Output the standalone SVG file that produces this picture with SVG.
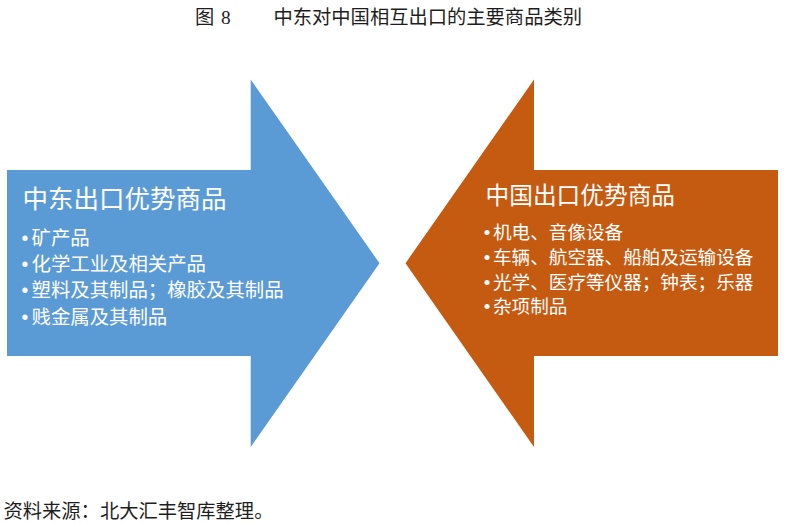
<svg xmlns="http://www.w3.org/2000/svg" width="785" height="524" viewBox="0 0 785 524">
  <style>
    .cjk { font-family: "Noto Sans CJK SC", "Noto Sans", sans-serif; }
    .caption { fill: #1e1e1e; font-size: 19.3px; }
    .head { fill: #ffffff; }
    .item { fill: #ffffff; }
    .bul { font-family: "Liberation Sans", "DejaVu Sans", sans-serif; }
    .blue { fill: #5B9BD5; }
    .orange { fill: #C55A11; }
  </style>
  <rect x="0" y="0" width="785" height="524" fill="#ffffff"/>

  <g id="title">
    <text class="cjk caption" y="23.9">
      <tspan x="195">图</tspan><tspan x="221" font-family="Liberation Serif, serif">8</tspan><tspan x="273.5">中东对中国相互出口的主要商品类别</tspan>
    </text>
  </g>

  <g id="connectors"></g>

  <g id="middle-east-exports">
    <path class="blue" d="M7,170 H250.7 V79.5 L379.5,263.2 L250.7,447 V356 H7 Z"/>
    <text class="cjk head" x="22.5" y="207.5" font-size="25.5px">中东出口优势商品</text>
    <g class="cjk item" font-size="19.4px">
      <text y="244.5"><tspan class="bul" x="21.5">•</tspan><tspan x="31.5">矿产品</tspan></text>
      <text y="270.6"><tspan class="bul" x="21.5">•</tspan><tspan x="31.5">化学工业及相关产品</tspan></text>
      <text y="297.1"><tspan class="bul" x="21.5">•</tspan><tspan x="31.5">塑料及其制品；橡胶及其制品</tspan></text>
      <text y="323.8"><tspan class="bul" x="21.5">•</tspan><tspan x="31.5">贱金属及其制品</tspan></text>
    </g>
  </g>

  <g id="china-exports">
    <path class="orange" d="M778,170 H534 V79.5 L405.5,263.2 L534,447 V356 H778 Z"/>
    <text class="cjk head" x="485.5" y="204.3" font-size="23.7px">中国出口优势商品</text>
    <g class="cjk item" font-size="18.6px">
      <text y="238.9"><tspan class="bul" x="483.8">•</tspan><tspan x="493">机电、音像设备</tspan></text>
      <text y="263.9"><tspan class="bul" x="483.8">•</tspan><tspan x="493">车辆、航空器、船舶及运输设备</tspan></text>
      <text y="288.9"><tspan class="bul" x="483.8">•</tspan><tspan x="493">光学、医疗等仪器；钟表；乐器</tspan></text>
      <text y="313.2"><tspan class="bul" x="483.8">•</tspan><tspan x="493">杂项制品</tspan></text>
    </g>
  </g>

  <g id="source">
    <text class="cjk caption" x="3.5" y="518">资料来源：北大汇丰智库整理。</text>
  </g>
</svg>
